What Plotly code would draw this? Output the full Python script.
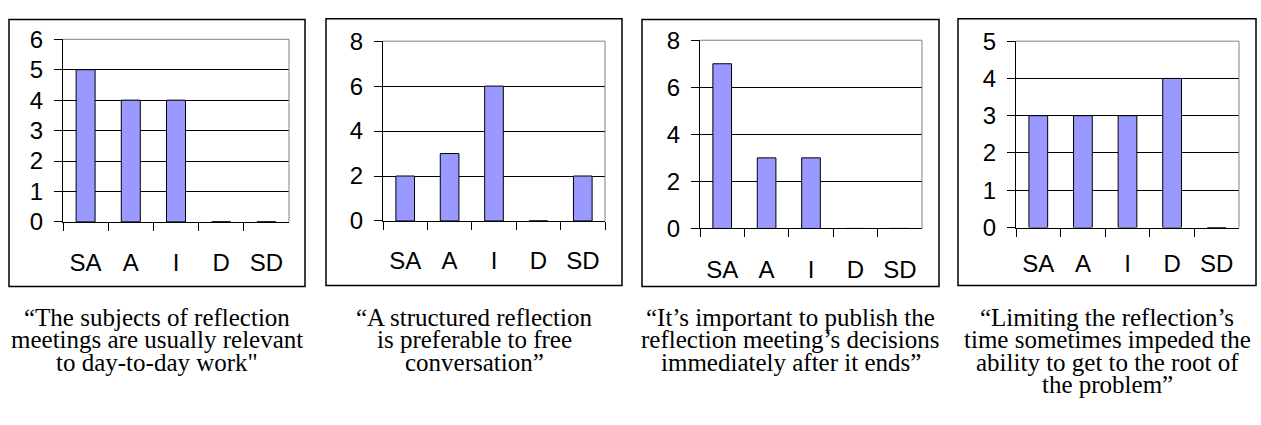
import plotly.graph_objects as go

W, H = 1261, 425

categories = ["SA", "A", "I", "D", "SD"]
values_1 = [5, 4, 4, 0, 0]
values_2 = [2, 3, 6, 0, 2]
values_3 = [7, 3, 3, 0, 0]
values_4 = [3, 3, 3, 4, 0]
y_max = [6, 8, 8, 5]
y_dtick = [1, 2, 2, 1]

caption_1 = ["“The subjects of reflection", "meetings are usually relevant", "to day-to-day work\""]
caption_2 = ["“A structured reflection", "is preferable to free", "conversation”"]
caption_3 = ["“It’s important to publish the", "reflection meeting’s decisions", "immediately after it ends”"]
caption_4 = ["“Limiting the reflection’s", "time sometimes impeded the", "ability to get to the root of", "the problem”"]

series = [values_1, values_2, values_3, values_4]
captions = [caption_1, caption_2, caption_3, caption_4]

# layout in pixels
plot_boxes = [(63, 289, 27, 222), (383, 605, 29, 221), (700, 922, 28, 229), (1016, 1239, 29, 228)]
outer_boxes = [(9, 6, 305, 291), (326, 5, 622, 290), (642, 6, 939, 291), (958, 5, 1256, 290)]
xlab_standoff = [19, 18, 20, 15]

SERIF = "'Times New Roman', 'Liberation Serif', 'DejaVu Serif', serif"

fig = go.Figure()
shapes = []
annotations = []

for i, (vals, cap) in enumerate(zip(series, captions)):
    n = "" if i == 0 else str(i + 1)
    xa, ya = "x" + n, "y" + n
    x0, x1, yt, yb = plot_boxes[i]
    fig.add_trace(go.Bar(
        x=categories, y=vals, xaxis=xa, yaxis=ya, width=0.42,
        marker=dict(color="#9999FF", line=dict(color="black", width=1)),
        showlegend=False, hoverinfo="x+y",
    ))
    fig.update_layout(**{
        "xaxis" + n: dict(
            domain=[x0 / W, x1 / W], anchor=ya, type="category",
            categoryorder="array", categoryarray=categories,
            range=[-0.5, 4.5], showgrid=False, showline=True, linecolor="black",
            linewidth=1, ticks="outside", tickson="boundaries", ticklen=8,
            tickcolor="black", tickwidth=1, ticklabelstandoff=xlab_standoff[i],
            tickfont=dict(family="Liberation Sans", size=24, color="black"),
            fixedrange=True, zeroline=False,
        ),
        "yaxis" + n: dict(
            domain=[1 - yb / H, 1 - yt / H], anchor=xa,
            range=[0, y_max[i]], dtick=y_dtick[i], tick0=0,
            showgrid=True, gridcolor="black", gridwidth=1,
            showline=True, linecolor="black", linewidth=1,
            ticks="outside", ticklen=8, tickcolor="black", tickwidth=1,
            ticklabelstandoff=6,
            tickfont=dict(family="Liberation Sans", size=24, color="black"),
            zeroline=False, fixedrange=True,
        ),
    })
    # grey plot-area border (top and right)
    xd, yd = xa + " domain", ya + " domain"
    shapes.append(dict(type="line", xref=xd, yref=yd, x0=0, x1=1, y0=1, y1=1,
                       line=dict(color="#808080", width=1), layer="above"))
    shapes.append(dict(type="line", xref=xd, yref=yd, x0=1, x1=1, y0=0, y1=1,
                       line=dict(color="#808080", width=1), layer="above"))
    # outer chart box
    bx0, by0, bx1, by1 = outer_boxes[i]
    shapes.append(dict(type="rect", xref="paper", yref="paper",
                       x0=bx0 / W, x1=bx1 / W, y0=1 - by1 / H, y1=1 - by0 / H,
                       line=dict(color="black", width=1.5), fillcolor="rgba(0,0,0,0)",
                       layer="below"))
    # caption lines
    cx = (bx0 + bx1) / 2
    for j, line in enumerate(cap):
        annotations.append(dict(
            text=line, x=cx / W, y=1 - (324 + 24 * j) / H, xref="paper", yref="paper",
            xanchor="center", yanchor="middle", showarrow=False,
            font=dict(family=SERIF, size=25, color="black"),
        ))

fig.update_layout(
    width=W, height=H, margin=dict(l=0, r=0, t=0, b=0),
    paper_bgcolor="white", plot_bgcolor="white",
    shapes=shapes, annotations=annotations, bargap=0.58,
)

fig.write_html(
    "out.html",
    config={"displayModeBar": False},
    post_script="document.body.style.margin='0';document.body.style.overflow='hidden';",
)
